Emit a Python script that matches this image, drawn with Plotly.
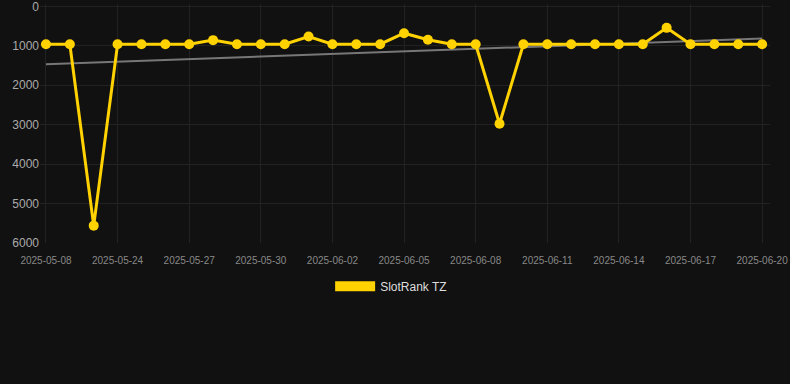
import plotly.graph_objects as go

dates = ["2025-05-08", "2025-05-22", "2025-05-23"] + [
    "2025-05-24", "2025-05-25", "2025-05-26", "2025-05-27", "2025-05-28", "2025-05-29",
    "2025-05-30", "2025-05-31", "2025-06-01", "2025-06-02", "2025-06-03", "2025-06-04",
    "2025-06-05", "2025-06-06", "2025-06-07", "2025-06-08", "2025-06-09", "2025-06-10",
    "2025-06-11", "2025-06-12", "2025-06-13", "2025-06-14", "2025-06-15", "2025-06-16",
    "2025-06-17", "2025-06-18", "2025-06-19", "2025-06-20"]
ranks = [960, 960, 5560, 960, 960, 960, 960, 856, 960, 960, 960, 764, 960, 960, 960,
         680, 848, 960, 960, 2975, 960, 960, 960, 960, 960, 960, 545, 960, 960, 960, 960]
trend_x = [dates[0], dates[-1]]
trend_y = [1470, 815]
tick_dates = dates[::3]
y_ticks = [0, 1000, 2000, 3000, 4000, 5000, 6000]

gold = "#FFD200"
fig = go.Figure()
fig.add_trace(go.Scatter(x=trend_x, y=trend_y, mode="lines",
                         line=dict(color="#777777", width=2), showlegend=False,
                         hoverinfo="skip"))
fig.add_trace(go.Scatter(x=dates, y=ranks, mode="lines+markers", name="SlotRank TZ",
                         line=dict(color=gold, width=3),
                         marker=dict(color=gold, size=10), showlegend=False,
                         cliponaxis=False))
fig.add_trace(go.Scatter(x=[None], y=[None], mode="lines", name="SlotRank TZ",
                         line=dict(color=gold, width=12), showlegend=True))

fig.update_layout(
    width=790, height=384,
    paper_bgcolor="#111111", plot_bgcolor="#111111",
    margin=dict(l=40, r=20, t=4, b=141),
    font=dict(family="Liberation Sans, Arial, sans-serif", color="#aaaaaa"),
    xaxis=dict(type="category", categoryorder="array", categoryarray=dates,
               range=[-0.25, 30.33], tickvals=tick_dates, ticktext=tick_dates,
               showgrid=True, gridcolor="#222222", gridwidth=1,
               tickfont=dict(size=10, color="#888888"), zeroline=False,
               showline=False, ticks="", ticklabelstandoff=10, automargin=False),
    yaxis=dict(range=[6000, -60], tickvals=y_ticks, showgrid=True,
               gridcolor="#222222", gridwidth=1, zeroline=False,
               tickfont=dict(size=12, color="#aaaaaa"), ticks="", showline=False,
               ticklabeloverflow="allow", automargin=False),
    legend=dict(orientation="h", x=0.481, xanchor="center", y=-0.12, yanchor="top",
                font=dict(size=12, color="#dddddd"), itemwidth=40,
                bgcolor="rgba(0,0,0,0)"),
    showlegend=True,
)
fig.write_html("out.html", config={"displayModeBar": False},
               post_script="document.body.style.margin='0';document.body.style.background='#111111';")
